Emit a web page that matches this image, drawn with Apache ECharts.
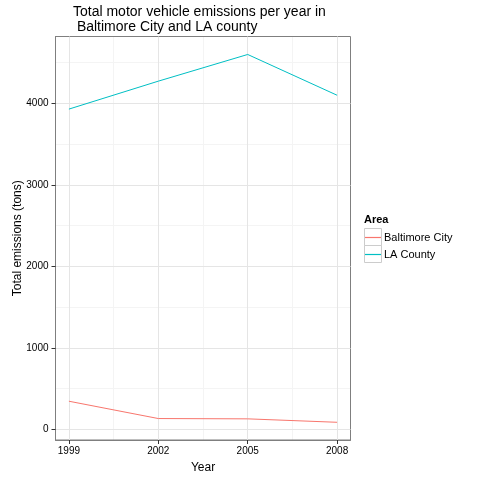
<html>
<head>
<meta charset="utf-8" />
<title>Motor vehicle emissions</title>
<script src="https://cdn.jsdelivr.net/npm/echarts@6/dist/echarts.min.js"></script>
<style type="text/css">
html, body { margin: 0; padding: 0; background: #fff; }
#echarts { width: 480px; height: 480px; }
</style>
</head>
<body>
<div id="echarts"></div>
<script type="text/javascript">
var myChart = echarts.init(document.getElementById("echarts"));

// data
var years = [1999, 2002, 2005, 2008];
var areas = ['Baltimore City', 'LA County'];
var baltimore = [346.8, 134.3, 130.4, 88.3];
var laCounty = [3931.1, 4274.0, 4601.4, 4101.3];
var colors = ['#F8766D', '#00BFC4'];
var yTicks = [0, 1000, 2000, 3000, 4000];
var yMinor = [500, 1500, 2500, 3500, 4500];
var xMinor = [2000.5, 2003.5, 2006.5];

var font = 'Arial, "Liberation Sans", sans-serif';

function pairs(xs, ys) {
    return xs.map(function (x, i) { return [x, ys[i]]; });
}

var xRange = {min: 1998.55, max: 2008.45};
var yRange = {min: -129, max: 4822};

option = {
    backgroundColor: '#fff',
    animation: false,
    title: {
        text: 'Total motor vehicle emissions per year in\n Baltimore City and LA county',
        left: 73,
        top: 5,
        padding: 0,
        textStyle: {fontFamily: font, fontSize: 14, fontWeight: 'normal', color: '#000', lineHeight: 15}
    },
    legend: {
        orient: 'vertical',
        left: 365,
        top: 229,
        padding: 0,
        itemWidth: 16,
        itemHeight: 1.2,
        itemGap: 0,
        icon: 'rect',
        data: areas.map(function (a, i) {
            return {name: a, itemStyle: {color: colors[i], opacity: 1}};
        }),
        textStyle: {fontFamily: font, fontSize: 11, color: '#000', lineHeight: 17, padding: [0, 0, 0, -2]}
    },
    grid: {
        left: 55.5,
        top: 36.5,
        right: 129.5,
        bottom: 40,
        outerBoundsMode: 'none',
        containLabel: false,
        show: true,
        borderColor: '#7f7f7f',
        borderWidth: 1,
        backgroundColor: 'transparent'
    },
    graphic: [
        {type: 'text', left: 364, top: 214,
         style: {text: 'Area', font: 'bold 11px ' + font, fill: '#000'}},
        {type: 'rect', shape: {x: 364.5, y: 228.5, width: 17, height: 17},
         style: {fill: 'none', stroke: '#cccccc', lineWidth: 1}, z: -1},
        {type: 'rect', shape: {x: 364.5, y: 245.5, width: 17, height: 17},
         style: {fill: 'none', stroke: '#cccccc', lineWidth: 1}, z: -1}
    ],
    xAxis: [{
        type: 'value',
        min: xRange.min,
        max: xRange.max,
        name: 'Year',
        nameLocation: 'middle',
        nameGap: 22,
        nameMoveOverlap: false,
        nameTextStyle: {fontFamily: font, fontSize: 12, color: '#000'},
        axisLine: {show: true, onZero: false, lineStyle: {color: '#7f7f7f'}},
        axisTick: {show: true, length: 4, customValues: years, lineStyle: {color: '#333'}},
        axisLabel: {customValues: years, fontFamily: font, fontSize: 10, color: '#000', margin: 6,
                    formatter: function (v) { return String(v); }},
        splitLine: {show: true, lineStyle: {color: '#e5e5e5', width: 1}}
    }, {
        type: 'value',
        min: xRange.min,
        max: xRange.max,
        show: true,
        axisLine: {show: false},
        axisTick: {show: false, customValues: xMinor},
        axisLabel: {show: false, customValues: xMinor},
        splitLine: {show: true, lineStyle: {color: '#f4f4f4', width: 1}},
        z: -1
    }],
    yAxis: [{
        type: 'value',
        min: yRange.min,
        max: yRange.max,
        name: 'Total emissions (tons)',
        nameLocation: 'middle',
        nameGap: 32,
        nameMoveOverlap: false,
        nameTextStyle: {fontFamily: font, fontSize: 12, color: '#000'},
        axisLine: {show: true, onZero: false, lineStyle: {color: '#7f7f7f'}},
        axisTick: {show: true, length: 4, customValues: yTicks, lineStyle: {color: '#333'}},
        axisLabel: {customValues: yTicks, fontFamily: font, fontSize: 10, color: '#000', margin: 7,
                    formatter: function (v) { return String(v); }},
        splitLine: {show: true, lineStyle: {color: '#e5e5e5', width: 1}}
    }, {
        type: 'value',
        min: yRange.min,
        max: yRange.max,
        show: true,
        axisLine: {show: false},
        axisTick: {show: false, customValues: yMinor},
        axisLabel: {show: false, customValues: yMinor},
        splitLine: {show: true, lineStyle: {color: '#f4f4f4', width: 1}},
        z: -1
    }],
    series: [{
        name: areas[0],
        type: 'line',
        symbol: 'none',
        data: pairs(years, baltimore),
        lineStyle: {width: 1, color: colors[0]},
        itemStyle: {color: colors[0]}
    }, {
        name: areas[1],
        type: 'line',
        symbol: 'none',
        data: pairs(years, laCounty),
        lineStyle: {width: 1, color: colors[1]},
        itemStyle: {color: colors[1]}
    }]
};

myChart.setOption(option);
</script>
</body>
</html>
